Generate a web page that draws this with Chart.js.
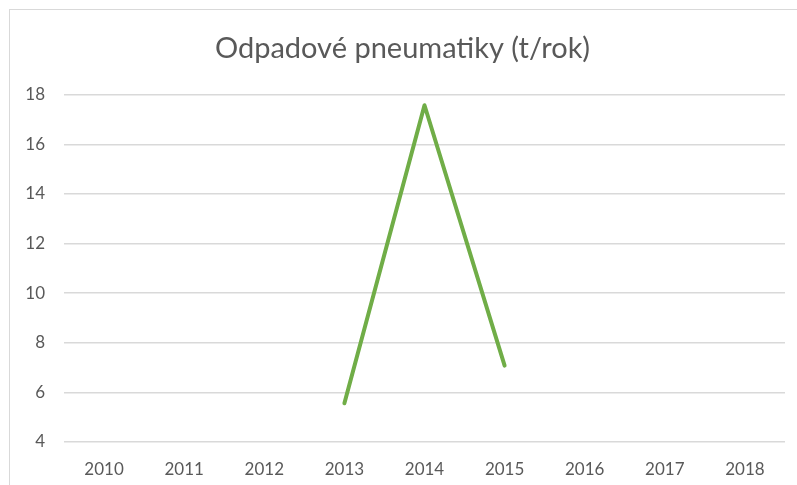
<!DOCTYPE html>
<html lang="cs">
<head>
  <meta charset="UTF-8" />
  <title>Odpadové pneumatiky</title>
  <script src="https://cdn.jsdelivr.net/npm/chart.js"></script>
  <style>
    body {
      margin: 0;
      background: #ffffff;
      overflow: hidden;
    }
    .frame {
      position: absolute;
      left: 9px;
      top: 9px;
      width: 820px;
      height: 500px;
      border: 1px solid #d9d9d9;
    }
    .wrap {
      position: absolute;
      left: 0;
      top: 0;
      width: 797px;
      height: 485px;
    }
  </style>
</head>
<body>
  <div class="frame"></div>
  <div class="wrap"><canvas id="chart"></canvas></div>

  <script>
    const years = ['2010', '2011', '2012', '2013', '2014', '2015', '2016', '2017', '2018'];
    const tonnes = [null, null, null, 5.56, 17.58, 7.08, null, null, null];

    const textColor = '#595959';
    const fontFamily = 'Lato, "Open Sans", sans-serif';

    new Chart(document.getElementById('chart'), {
      type: 'line',
      data: {
        labels: years,
        datasets: [{
          label: 'Odpadové pneumatiky (t/rok)',
          data: tonnes,
          borderColor: '#70ad47',
          borderWidth: 4,
          borderCapStyle: 'round',
          borderJoinStyle: 'round',
          pointRadius: 0,
          spanGaps: false,
          tension: 0
        }]
      },
      options: {
        responsive: true,
        maintainAspectRatio: false,
        animation: false,
        // left padding nudges the title toward the centre of the framed area
        layout: { padding: { left: 20, right: 12, top: 0, bottom: 0 } },
        plugins: {
          legend: { display: false },
          tooltip: { enabled: false },
          title: {
            display: true,
            text: 'Odpadové pneumatiky (t/rok)',
            color: textColor,
            font: { family: fontFamily, size: 29, weight: 'normal' },
            padding: { top: 31, bottom: 29 }
          }
        },
        scales: {
          x: {
            offset: true,
            grid: { display: false },
            border: { display: false },
            ticks: {
              color: textColor,
              font: { family: fontFamily, size: 17 },
              padding: 9,
              maxRotation: 0
            },
            afterFit: function(scale) { scale.height = 43; }
          },
          y: {
            min: 4,
            max: 18,
            grid: { color: '#d9d9d9', lineWidth: 1.5, drawTicks: false },
            border: { display: false },
            ticks: {
              stepSize: 2,
              color: textColor,
              font: { family: fontFamily, size: 17 },
              padding: 19
            },
            afterFit: function(scale) { scale.width = 44; }
          }
        }
      }
    });
  </script>
</body>
</html>
